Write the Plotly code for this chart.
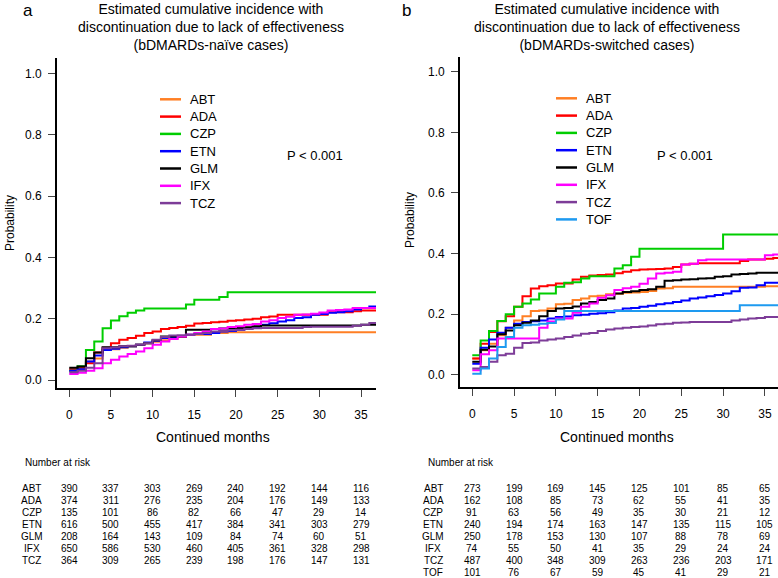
import plotly.graph_objects as go

# cumulative incidence read at each month 0..36
MONTHS = list(range(37))

DRUGS_A = ["ABT", "ADA", "CZP", "ETN", "GLM", "IFX", "TCZ"]
DRUGS_B = ["ABT", "ADA", "CZP", "ETN", "GLM", "IFX", "TCZ", "TOF"]

COLORS = {
    "ABT": "#FF7F24", "ADA": "#FF0000", "CZP": "#00CD00", "ETN": "#0000FF",
    "GLM": "#000000", "IFX": "#FF00FF", "TCZ": "#7D3C98", "TOF": "#1E9AF0",
}

# panel a: bDMARDs-naive
naive_abt = [0.03, 0.04, 0.06, 0.07, 0.10, 0.10, 0.105, 0.11, 0.115, 0.12, 0.125, 0.13, 0.135,
             0.14, 0.148, 0.148, 0.148, 0.153, 0.153, 0.156, 0.156, 0.156, 0.156, 0.156, 0.156,
             0.156, 0.156, 0.156, 0.156, 0.156, 0.156, 0.156, 0.156, 0.156, 0.156, 0.156, 0.156]
naive_ada = [0.035, 0.04, 0.055, 0.09, 0.105, 0.12, 0.131, 0.137, 0.144, 0.153, 0.158, 0.166, 0.17,
             0.173, 0.177, 0.184, 0.186, 0.188, 0.19, 0.193, 0.195, 0.197, 0.2, 0.205, 0.207,
             0.213, 0.213, 0.213, 0.213, 0.213, 0.213, 0.221, 0.221, 0.221, 0.224, 0.227, 0.227]
naive_czp = [0.03, 0.045, 0.098, 0.126, 0.169, 0.194, 0.208, 0.219, 0.227, 0.233, 0.233, 0.233, 0.233,
             0.233, 0.246, 0.262, 0.262, 0.262, 0.271, 0.286, 0.286, 0.286, 0.286, 0.286, 0.286,
             0.286, 0.286, 0.286, 0.286, 0.286, 0.286, 0.286, 0.286, 0.286, 0.286, 0.286, 0.286]
naive_etn = [0.03, 0.035, 0.06, 0.08, 0.098, 0.102, 0.107, 0.11, 0.115, 0.122, 0.128, 0.137, 0.14,
             0.143, 0.148, 0.15, 0.15, 0.153, 0.158, 0.16, 0.164, 0.169, 0.172, 0.18, 0.185,
             0.191, 0.195, 0.202, 0.205, 0.213, 0.215, 0.219, 0.221, 0.224, 0.23, 0.235, 0.24]
naive_glm = [0.04, 0.044, 0.071, 0.09, 0.107, 0.107, 0.11, 0.11, 0.115, 0.12, 0.13, 0.142, 0.142,
             0.142, 0.164, 0.164, 0.164, 0.166, 0.168, 0.168, 0.17, 0.172, 0.175, 0.178, 0.178,
             0.178, 0.178, 0.178, 0.178, 0.178, 0.178, 0.178, 0.178, 0.178, 0.178, 0.18, 0.18]
naive_ifx = [0.02, 0.024, 0.03, 0.038, 0.055, 0.066, 0.077, 0.085, 0.093, 0.104, 0.115, 0.126, 0.134,
             0.142, 0.148, 0.153, 0.158, 0.166, 0.168, 0.173, 0.175, 0.18, 0.183, 0.191, 0.195,
             0.202, 0.206, 0.213, 0.214, 0.216, 0.22, 0.227, 0.228, 0.23, 0.235, 0.235, 0.235]
naive_tcz = [0.025, 0.03, 0.04, 0.055, 0.104, 0.106, 0.11, 0.112, 0.115, 0.12, 0.131, 0.14, 0.145,
             0.146, 0.148, 0.15, 0.153, 0.158, 0.16, 0.162, 0.164, 0.166, 0.169, 0.17, 0.17,
             0.17, 0.17, 0.17, 0.173, 0.174, 0.174, 0.174, 0.174, 0.174, 0.177, 0.18, 0.186]

# panel b: bDMARDs-switched
sw_abt = [0.053, 0.08, 0.102, 0.13, 0.155, 0.179, 0.193, 0.21, 0.212, 0.218, 0.232, 0.234, 0.246,
          0.251, 0.259, 0.26, 0.265, 0.267, 0.27, 0.271, 0.273, 0.276, 0.284, 0.285, 0.29,
          0.29, 0.29, 0.29, 0.29, 0.29, 0.29, 0.29, 0.29, 0.29, 0.29, 0.292, 0.292]
sw_ada = [0.053, 0.102, 0.141, 0.176, 0.193, 0.224, 0.259, 0.284, 0.292, 0.295, 0.301, 0.301, 0.314,
          0.323, 0.327, 0.329, 0.331, 0.335, 0.34, 0.345, 0.347, 0.348, 0.349, 0.35, 0.355,
          0.364, 0.366, 0.368, 0.368, 0.368, 0.368, 0.368, 0.375, 0.38, 0.38, 0.383, 0.385]
sw_czp = [0.064, 0.113, 0.144, 0.177, 0.199, 0.224, 0.235, 0.248, 0.268, 0.268, 0.29, 0.303, 0.305,
          0.317, 0.325, 0.325, 0.325, 0.35, 0.361, 0.389, 0.416, 0.416, 0.416, 0.416, 0.416,
          0.416, 0.416, 0.416, 0.416, 0.416, 0.463, 0.463, 0.463, 0.463, 0.463, 0.463, 0.463]
sw_etn = [0.036, 0.089, 0.116, 0.138, 0.155, 0.168, 0.174, 0.176, 0.179, 0.185, 0.19, 0.192, 0.196,
          0.198, 0.201, 0.203, 0.206, 0.212, 0.218, 0.22, 0.224, 0.227, 0.232, 0.236, 0.24,
          0.245, 0.251, 0.255, 0.259, 0.263, 0.268, 0.275, 0.287, 0.288, 0.295, 0.303, 0.303]
sw_glm = [0.042, 0.082, 0.093, 0.133, 0.146, 0.163, 0.171, 0.179, 0.193, 0.21, 0.218, 0.22, 0.225,
          0.235, 0.24, 0.246, 0.251, 0.268, 0.273, 0.275, 0.279, 0.282, 0.29, 0.31, 0.312,
          0.314, 0.315, 0.317, 0.318, 0.323, 0.325, 0.331, 0.332, 0.334, 0.336, 0.336, 0.336]
sw_ifx = [0.014, 0.067, 0.08, 0.119, 0.119, 0.119, 0.119, 0.119, 0.155, 0.175, 0.185, 0.185, 0.204,
          0.224, 0.235, 0.254, 0.262, 0.279, 0.285, 0.29, 0.3, 0.317, 0.334, 0.336, 0.34,
          0.364, 0.366, 0.378, 0.38, 0.38, 0.38, 0.38, 0.38, 0.38, 0.38, 0.394, 0.397]
sw_tcz = [0.02, 0.025, 0.042, 0.064, 0.069, 0.089, 0.104, 0.106, 0.113, 0.116, 0.119, 0.124, 0.129,
          0.135, 0.137, 0.144, 0.149, 0.152, 0.155, 0.157, 0.159, 0.162, 0.166, 0.168, 0.171,
          0.172, 0.174, 0.174, 0.174, 0.174, 0.174, 0.179, 0.182, 0.185, 0.187, 0.19, 0.19]
sw_tof = [0.003, 0.02, 0.053, 0.091, 0.124, 0.155, 0.163, 0.165, 0.168, 0.17, 0.182, 0.21, 0.21,
          0.21, 0.21, 0.21, 0.21, 0.21, 0.21, 0.21, 0.21, 0.21, 0.21, 0.21, 0.21,
          0.21, 0.21, 0.21, 0.21, 0.21, 0.21, 0.21, 0.229, 0.229, 0.229, 0.229, 0.229]

naive = {"ABT": naive_abt, "ADA": naive_ada, "CZP": naive_czp, "ETN": naive_etn,
         "GLM": naive_glm, "IFX": naive_ifx, "TCZ": naive_tcz}
switched = {"ABT": sw_abt, "ADA": sw_ada, "CZP": sw_czp, "ETN": sw_etn,
            "GLM": sw_glm, "IFX": sw_ifx, "TCZ": sw_tcz, "TOF": sw_tof}

# number at risk
RISK_TIMES = [0, 5, 10, 15, 20, 25, 30, 35]
risk_naive = {
    "ABT": [390, 337, 303, 269, 240, 192, 144, 116],
    "ADA": [374, 311, 276, 235, 204, 176, 149, 133],
    "CZP": [135, 101, 86, 82, 66, 47, 29, 14],
    "ETN": [616, 500, 455, 417, 384, 341, 303, 279],
    "GLM": [208, 164, 143, 109, 84, 74, 60, 51],
    "IFX": [650, 586, 530, 460, 405, 361, 328, 298],
    "TCZ": [364, 309, 265, 239, 198, 176, 147, 131],
}
risk_switched = {
    "ABT": [273, 199, 169, 145, 125, 101, 85, 65],
    "ADA": [162, 108, 85, 73, 62, 55, 41, 35],
    "CZP": [91, 63, 56, 49, 35, 30, 21, 12],
    "ETN": [240, 194, 174, 163, 147, 135, 115, 105],
    "GLM": [250, 178, 153, 130, 107, 88, 78, 69],
    "IFX": [74, 55, 50, 41, 35, 29, 24, 24],
    "TCZ": [487, 400, 348, 309, 263, 236, 203, 171],
    "TOF": [101, 76, 67, 59, 45, 41, 29, 21],
}

W, H = 778, 578
FONT = "Liberation Sans, Arial, Helvetica, sans-serif"


def px_x(v):
    return v / W


def px_y(v):
    return 1 - v / H


fig = go.Figure()

for d in DRUGS_A:
    ys = naive[d]
    fig.add_trace(go.Scatter(x=MONTHS + [38], y=ys + [ys[-1]], mode="lines", name=d,
                             line=dict(color=COLORS[d], width=2, shape="hv"),
                             xaxis="x", yaxis="y", showlegend=False))
for d in DRUGS_B:
    ys = switched[d]
    fig.add_trace(go.Scatter(x=MONTHS + [38], y=ys + [ys[-1]], mode="lines", name=d,
                             line=dict(color=COLORS[d], width=2, shape="hv"),
                             xaxis="x2", yaxis="y2", showlegend=False))

axis_common = dict(showgrid=False, zeroline=False, showline=True, linecolor="black", linewidth=1.6,
                   ticks="outside", ticklen=7, tickwidth=1, tickcolor="#444", automargin=False,
                   tickfont=dict(family=FONT, size=12, color="black"))

fig.update_layout(
    width=W, height=H,
    margin=dict(l=0, r=0, t=0, b=0),
    paper_bgcolor="white", plot_bgcolor="white",
    font=dict(family=FONT, color="black"),
    xaxis=dict(domain=[px_x(57), px_x(376)], range=[-1.47, 36.8], tickvals=RISK_TIMES,
               anchor="y", ticklabelstandoff=8, **axis_common),
    yaxis=dict(domain=[px_y(388), px_y(58)], range=[-0.026, 1.05], tickvals=[0, 0.2, 0.4, 0.6, 0.8, 1.0],
               tickformat=".1f", anchor="x", ticklabelstandoff=4, **axis_common),
    xaxis2=dict(domain=[px_x(460), 1.0], range=[-1.47, 36.57], tickvals=RISK_TIMES,
                anchor="y2", ticklabelstandoff=8, **axis_common),
    yaxis2=dict(domain=[px_y(387), px_y(57)], range=[-0.041, 1.049], tickvals=[0, 0.2, 0.4, 0.6, 0.8, 1.0],
                tickformat=".1f", anchor="x2", ticklabelstandoff=4, **axis_common),
)

ann = []
shapes = []
# panel letters and titles
ann.append(dict(text="a", x=px_x(28), y=1.0, yanchor="top", borderpad=0, font=dict(size=17)))
ann.append(dict(text="b", x=px_x(406), y=1.0, yanchor="top", borderpad=0, font=dict(size=17)))
ann.append(dict(text="Estimated cumulative incidence with<br>discontinuation due to lack of effectiveness"
                     "<br>(bDMARDs-naïve cases)",
                x=px_x(211), y=1.0, yanchor="top", borderpad=0, font=dict(size=14)))
ann.append(dict(text="Estimated cumulative incidence with<br>discontinuation due to lack of effectiveness"
                     "<br>(bDMARDs-switched cases)",
                x=px_x(607), y=1.0, yanchor="top", borderpad=0, font=dict(size=14)))
# axis titles
for xc, yc in [(10, 223), (410, 220)]:
    ann.append(dict(text="Probability", x=px_x(xc), y=px_y(yc), textangle=-90, font=dict(size=12)))
for xc in [213, 617]:
    ann.append(dict(text="Continued months", x=px_x(xc), y=px_y(437), font=dict(size=14)))
# p-values
ann.append(dict(text="P < 0.001", x=px_x(285), y=px_y(155), xanchor="left", font=dict(size=13)))
ann.append(dict(text="P < 0.001", x=px_x(655), y=px_y(155), xanchor="left", font=dict(size=13)))

# legends (one per panel)
for x0, y0, drugs in [(160, 99.3, DRUGS_A), (556, 98.3, DRUGS_B)]:
    for i, d in enumerate(drugs):
        yy = px_y(y0 + 17.3 * i)
        shapes.append(dict(type="line", xref="paper", yref="paper", x0=px_x(x0), x1=px_x(x0 + 21),
                           y0=yy, y1=yy, line=dict(color=COLORS[d], width=2.5)))
        ann.append(dict(text=d, x=px_x(x0 + 28), y=yy, xanchor="left", font=dict(size=13)))

# number at risk tables
for xref, xlab, xhead, drugs, risk in [("x", 32, 23, DRUGS_A, risk_naive),
                                       ("x2", 433, 426, DRUGS_B, risk_switched)]:
    ann.append(dict(text="Number at risk", x=px_x(xhead), y=px_y(463), xanchor="left",
                    font=dict(size=10)))
    for i, d in enumerate(drugs):
        yrow = px_y(488.5 + 12.05 * i)
        ann.append(dict(text=d, x=px_x(xlab), y=yrow, borderpad=0, font=dict(size=10)))
        for t, n in zip(RISK_TIMES, risk[d]):
            ann.append(dict(text=str(n), x=t, xref=xref, y=yrow, borderpad=0, font=dict(size=10)))

for a in ann:
    a.setdefault("xref", "paper")
    a.setdefault("yref", "paper")
    a.setdefault("showarrow", False)
    a.setdefault("xanchor", "center")
    a.setdefault("yanchor", "middle")
    a["font"] = dict(family=FONT, color="black", **a["font"])

fig.update_layout(annotations=ann, shapes=shapes)

# drop the default page margin so the figure fills the window
fig.write_html("out.html", config={"displayModeBar": False},
               post_script="document.body.style.margin='0';")
